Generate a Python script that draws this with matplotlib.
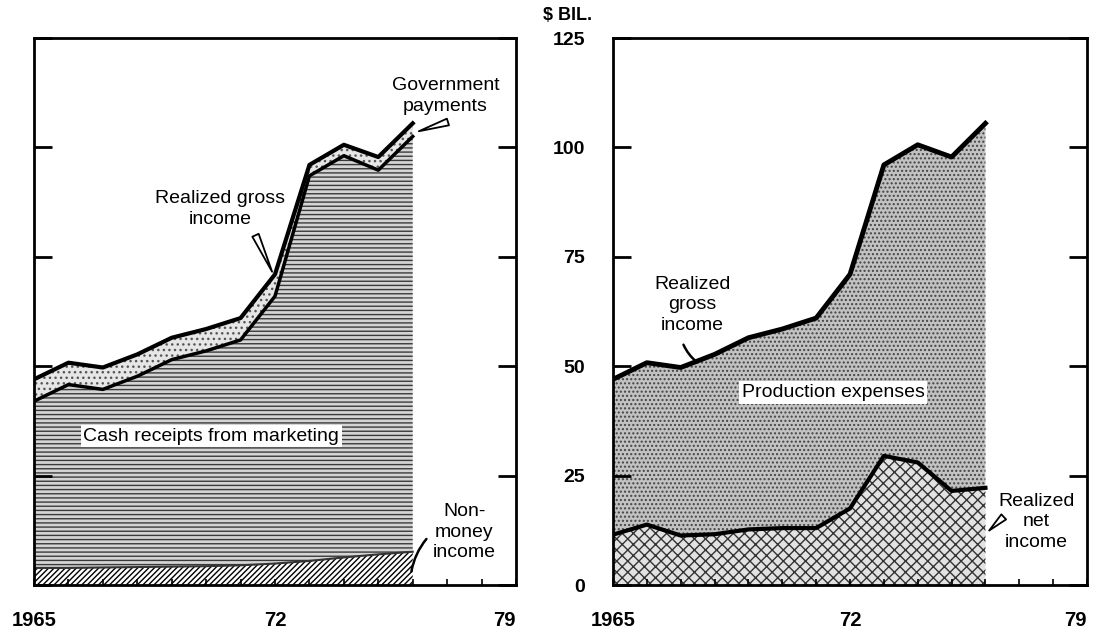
import numpy as np
import matplotlib.pyplot as plt

# farm income, billions of dollars, 1965-1976
years = list(range(1965, 1977))
nonmoney_income = [3.9, 3.9, 4.0, 4.1, 4.2, 4.3, 4.5, 4.9, 5.5, 6.3, 7.0, 7.6]
cash_receipts = [38.1, 41.9, 40.7, 43.6, 47.3, 49.2, 51.5, 61.1, 88.0, 91.8, 87.8, 94.9]
gov_payments = [5.0, 5.0, 5.0, 5.0, 5.0, 5.0, 5.0, 5.0, 2.5, 2.5, 3.0, 3.0]

net_income = [11.5, 13.8, 11.3, 11.6, 12.7, 13.0, 13.0, 17.5, 29.5, 28.0, 21.5, 22.2]
production_expenses = [35.5, 37.0, 38.4, 41.1, 43.8, 45.5, 48.0, 53.5, 66.5, 72.6, 76.3, 83.3]

year_ticks = [1965, 1972, 1979]
year_labels = ['1965', '72', '79']
value_ticks = [0, 25, 50, 75, 100, 125]

plt.rcParams['font.family'] = ['Liberation Sans', 'DejaVu Sans']
plt.rcParams['hatch.linewidth'] = 1.0

fig = plt.figure(figsize=(10.97, 6.32), dpi=100)
ax1 = fig.add_axes([34 / 1097, 47 / 632, 482 / 1097, 547 / 632])
ax2 = fig.add_axes([613 / 1097, 47 / 632, 474 / 1097, 547 / 632])

# left panel: where the gross income comes from
nm = np.array(nonmoney_income)
cash_top = nm + np.array(cash_receipts)
gross_top = cash_top + np.array(gov_payments)
ax1.fill_between(years, 0, nm, facecolor='white', edgecolor='black',
                 hatch='//////', linewidth=0)
ax1.fill_between(years, nm, cash_top, facecolor='#d4d4d4', edgecolor='#3a3a3a',
                 hatch='----', linewidth=0)
ax1.fill_between(years, cash_top, gross_top, facecolor='#e6e6e6', edgecolor='#555555',
                 hatch='...', linewidth=0)
ax1.plot(years, gross_top, color='black', lw=3)
ax1.plot(years, cash_top, color='black', lw=2.5)
ax1.plot(years, nm, color='#333333', lw=1.5)

# right panel: where it goes
net = np.array(net_income)
gross_r = net + np.array(production_expenses)
ax2.fill_between(years, 0, net, facecolor='#e2e2e2', edgecolor='#333333',
                 hatch='xxx', linewidth=0)
ax2.fill_between(years, net, gross_r, facecolor='#c2c2c2', edgecolor='#444444',
                 hatch='....', linewidth=0)
ax2.plot(years, gross_r, color='black', lw=3.5)
ax2.plot(years, net, color='black', lw=3)

for ax in (ax1, ax2):
    ax.set_xlim(1965, 1979)
    ax.set_ylim(0, 125)
    ax.set_xticks(year_ticks)
    ax.set_xticklabels(year_labels)
    ax.set_xticks(range(1965, 1980), minor=True)
    ax.set_yticks(value_ticks)
    ax.tick_params(axis='y', direction='in', length=13, width=2,
                   left=True, right=True, labelleft=False)
    ax.tick_params(axis='x', which='both', direction='in', length=4, width=1.2)
    ax.tick_params(axis='x', labelsize=14.5, pad=19)
    for lbl in ax.get_xticklabels():
        lbl.set_fontweight('bold')
    ax.get_xticklabels()[-1].set_horizontalalignment('right')
    for s in ax.spines.values():
        s.set_linewidth(2)

ax2.tick_params(axis='y', labelleft=True, labelsize=14, pad=20)
for lbl in ax2.get_yticklabels():
    lbl.set_fontweight('bold')

fig.text(568 / 1097, 1 - 15 / 632, r'\$ BIL.', ha='center', va='center',
         fontsize=13, fontweight='bold')

txt = dict(fontsize=14, ha='center', va='center', linespacing=1.3)
wedge = dict(arrowstyle='wedge,tail_width=0.5', fc='white', ec='black', lw=1.3)
line = dict(arrowstyle='-', color='black', lw=1.8, connectionstyle='arc3,rad=0.15')

# left panel labels
ax1.text(1970.4, 86, 'Realized gross\nincome', **txt)
ax1.annotate('', xy=(1971.95, 71), xytext=(1971.4, 80.5), arrowprops=wedge)
ax1.text(1976.95, 111.7, 'Government\npayments', **txt)
ax1.annotate('', xy=(1976.1, 103.5), xytext=(1977.1, 106), arrowprops=wedge)
ax1.text(1970.15, 34, 'Cash receipts from marketing', **txt,
         bbox=dict(facecolor='white', edgecolor='none', pad=2))
ax1.text(1977.5, 12.1, 'Non-\nmoney\nincome', **txt)
ax1.annotate('', xy=(1975.95, 2.5), xytext=(1976.45, 11.0), arrowprops=line)

# right panel labels
ax2.text(1967.35, 64, 'Realized\ngross\nincome', **txt)
ax2.annotate('', xy=(1967.55, 50.5), xytext=(1967.05, 55.5), arrowprops=line)
ax2.text(1971.5, 44, 'Production expenses', **txt,
         bbox=dict(facecolor='white', edgecolor='none', pad=2))
ax2.text(1977.5, 14.4, 'Realized\nnet\nincome', **txt)
ax2.annotate('', xy=(1976.05, 12.0), xytext=(1976.6, 16.0), arrowprops=wedge)

fig.savefig('out.png', dpi=100)
